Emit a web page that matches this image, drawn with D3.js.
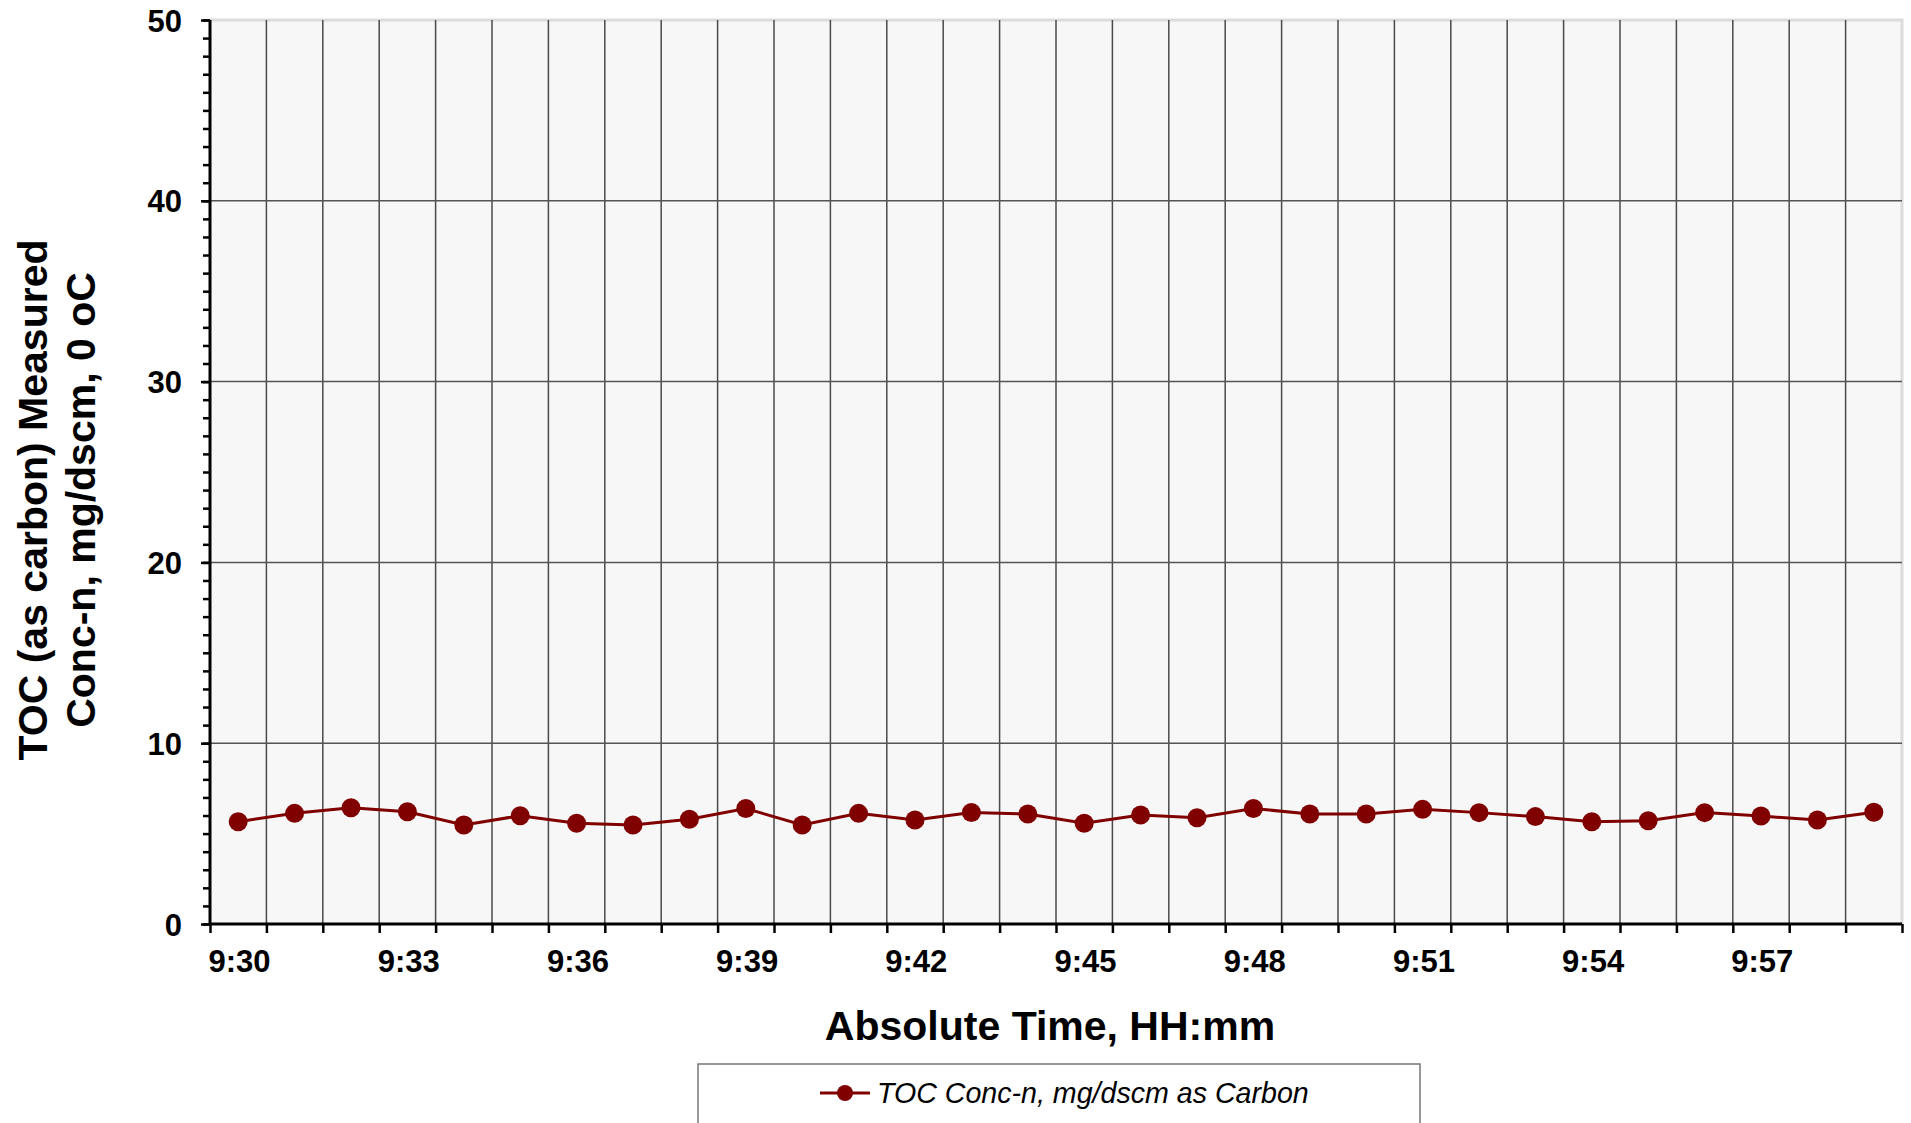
<!DOCTYPE html>
<html>
<head>
<meta charset="utf-8">
<script src="https://cdn.jsdelivr.net/npm/d3@7"></script>
<style>
  html, body { margin: 0; padding: 0; background: #ffffff; }
  svg { display: block; font-family: "Liberation Sans", Arial, sans-serif; }
</style>
</head>
<body>
<svg id="chart" width="1911" height="1123"></svg>
<script>
// ---- data ----
const sampleTimes = ["9:30:30","9:31:30","9:32:30","9:33:30","9:34:30","9:35:30","9:36:30","9:37:30","9:38:30","9:39:30",
                     "9:40:30","9:41:30","9:42:30","9:43:30","9:44:30","9:45:30","9:46:30","9:47:30","9:48:30","9:49:30",
                     "9:50:30","9:51:30","9:52:30","9:53:30","9:54:30","9:55:30","9:56:30","9:57:30","9:58:30","9:59:30"];
const tocValues = [5.66, 6.12, 6.43, 6.21, 5.48, 5.99, 5.57, 5.48, 5.79, 6.39,
                   5.48, 6.12, 5.75, 6.17, 6.08, 5.57, 6.03, 5.88, 6.39, 6.08,
                   6.08, 6.34, 6.16, 5.94, 5.66, 5.71, 6.16, 5.97, 5.75, 6.18];
const xDomain = ["9:30:00", "10:00:00"];
const xTickLabels = ["9:30","9:33","9:36","9:39","9:42","9:45","9:48","9:51","9:54","9:57"];
const yDomain = [0, 50];
const yTickLabels = [0, 10, 20, 30, 40, 50];
const seriesName = "TOC Conc-n, mg/dscm as Carbon";
const xTitle = "Absolute Time, HH:mm";
const yTitleLines = ["TOC (as carbon) Measured", "Conc-n, mg/dscm, 0 oC"];

// ---- helpers ----
const parseT = s => {
  const p = s.split(":").map(Number);
  return new Date(2000, 0, 1, p[0], p[1], p[2] || 0);
};
const fmt = d3.timeFormat("%-H:%M");

const svg = d3.select("#chart");
const L = 210, R = 1902, T = 20, B = 924;
const color = "#800000";
const FONT = "'Liberation Sans', Arial, sans-serif";

const x = d3.scaleTime().domain(xDomain.map(parseT)).range([L, R]);
const y = d3.scaleLinear().domain(yDomain).range([B, T]);

// plot background
svg.append("rect").attr("x", L).attr("y", T).attr("width", R - L).attr("height", B - T)
  .attr("fill", "#f7f7f7");

// light border top & right
svg.append("path").attr("d", `M${L},${T}H${R}V${B}`).attr("fill", "none")
  .attr("stroke", "#dcdcdc").attr("stroke-width", 3);

// vertical gridlines each minute
const minuteTicks = d3.timeMinute.every(1).range(parseT(xDomain[0]), parseT(xDomain[1]));
svg.append("g").selectAll("line").data(minuteTicks.slice(1)).join("line")
  .attr("x1", d => x(d)).attr("x2", d => x(d)).attr("y1", T).attr("y2", B)
  .attr("stroke", "#4a4a4a").attr("stroke-width", 1.5);

// horizontal gridlines
svg.append("g").selectAll("line").data(yTickLabels.filter(v => v > 0 && v < 50)).join("line")
  .attr("x1", L).attr("x2", R).attr("y1", d => y(d)).attr("y2", d => y(d))
  .attr("stroke", "#555").attr("stroke-width", 1.5);

// y axis minor
const yMinor = d3.axisLeft(y).tickValues(d3.range(0, 51, 1)).tickSize(7).tickFormat("");
const gyMinor = svg.append("g").attr("transform", `translate(${L},0)`).call(yMinor);
gyMinor.select(".domain").remove();
gyMinor.selectAll("line").attr("stroke", "#000").attr("stroke-width", 2.5);

// y axis major
const yMajor = d3.axisLeft(y).tickValues(yTickLabels).tickSize(9).tickPadding(19);
const gy = svg.append("g").attr("transform", `translate(${L},0)`).call(yMajor);
gy.attr("font-size", 31).attr("font-family", FONT);
gy.select(".domain").attr("stroke", "#000").attr("stroke-width", 3).attr("d", `M0,${T}V${B}`);
gy.selectAll("line").attr("stroke", "#000").attr("stroke-width", 2.5);
gy.selectAll("text").style("font-size", "31px").attr("font-weight", "bold").attr("fill", "#000")
  .attr("dy", "0.36em");

// x axis
const xLabelSet = new Set(xTickLabels);
const xAxis = d3.axisBottom(x).tickValues(d3.timeMinute.every(1).range(parseT(xDomain[0]), new Date(parseT(xDomain[1]).getTime() + 1)))
  .tickSize(9).tickFormat(d => xLabelSet.has(fmt(d)) ? fmt(d) : "");
const gx = svg.append("g").attr("transform", `translate(0,${B})`).call(xAxis);
gx.attr("font-size", 31).attr("font-family", FONT);
gx.select(".domain").attr("stroke", "#000").attr("stroke-width", 3).attr("d", `M${L},0H${R}`);
gx.selectAll("line").attr("stroke", "#000").attr("stroke-width", 2.5);
gx.selectAll("text").style("font-size", "31px").attr("font-weight", "bold").attr("fill", "#000")
  .attr("text-anchor", "start").attr("x", -2).attr("y", 48).attr("dy", 0);

// series line
const pts = sampleTimes.map((t, i) => ({ t: parseT(t), v: tocValues[i] }));
svg.append("path").datum(pts)
  .attr("d", d3.line().x(d => x(d.t)).y(d => y(d.v)))
  .attr("fill", "none").attr("stroke", color).attr("stroke-width", 3);
svg.append("g").selectAll("circle").data(pts).join("circle")
  .attr("cx", d => x(d.t)).attr("cy", d => y(d.v)).attr("r", 9.5).attr("fill", color);

// axis titles
svg.append("text").attr("x", 1050).attr("y", 1040).attr("text-anchor", "middle")
  .attr("font-size", 41).attr("font-weight", "bold").text(xTitle);
yTitleLines.forEach((ln, i) => {
  svg.append("text").attr("transform", `translate(${47 + i * 48},500) rotate(-90)`)
    .attr("text-anchor", "middle").attr("font-size", 41).attr("font-weight", "bold").text(ln);
});

// legend
svg.append("rect").attr("x", 698).attr("y", 1064).attr("width", 722).attr("height", 80)
  .attr("fill", "#fff").attr("stroke", "#777").attr("stroke-width", 1.5);
svg.append("line").attr("x1", 820).attr("x2", 870).attr("y1", 1093).attr("y2", 1093)
  .attr("stroke", color).attr("stroke-width", 3);
svg.append("circle").attr("cx", 845).attr("cy", 1093).attr("r", 8).attr("fill", color);
svg.append("text").attr("x", 877).attr("y", 1103).attr("font-size", 28.6).attr("font-style", "italic")
  .text(seriesName);
</script>
</body>
</html>
